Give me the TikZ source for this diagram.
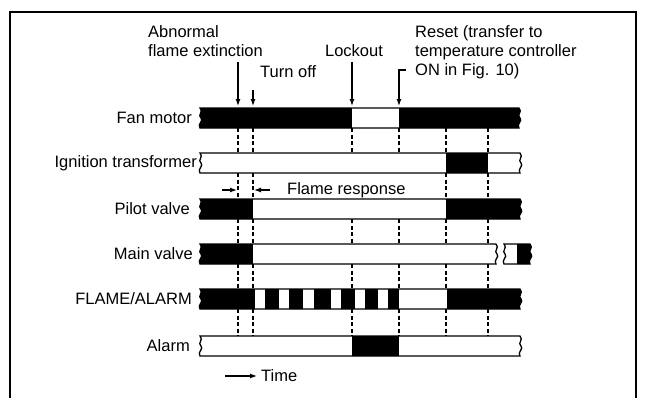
\documentclass[tikz,border=0pt]{standalone}
\usepackage{fontspec}
\setmainfont{Liberation Sans}
\usetikzlibrary{arrows.meta}

% outline of one signal row, with broken ends: left x, right x, top y
\newcommand{\rowpath}[3]{(#1,#3) -- (#2,#3) .. controls (#2+4,#3+4) and (#2-3,#3+7) .. (#2+1,#3+10) .. controls (#2+4,#3+13) and (#2-3,#3+16) .. (#2,#3+20) -- (#1,#3+20) .. controls (#1-3,#3+16) and (#1+4,#3+13) .. (#1+1,#3+10) .. controls (#1-3,#3+7) and (#1+4,#3+4) .. (#1,#3) -- cycle}

% signal row: left x, right x, top y, black spans
\newcommand{\sigrow}[4]{%
  \fill[white] \rowpath{#1}{#2}{#3};
  \begin{scope}
    \clip \rowpath{#1}{#2}{#3};
    \foreach \xa/\xb in {#4} \fill[black] (\xa,#3-2) rectangle (\xb,#3+22);
  \end{scope}
  \draw[rowline] \rowpath{#1}{#2}{#3};}

% dashed guides between two rows
\newcommand{\guides}[3]{\foreach \x in {#3} \draw[guide] (\x,#1) -- (\x,#2);}

\tikzset{
  lbl/.style={font=\fontsize{16.5}{19}\selectfont, inner sep=0pt},
  rowline/.style={line width=1.3pt},
  guide/.style={line width=1.2pt, dash pattern=on 4pt off 2.5pt},
  marker/.style={line width=1.2pt, -{Latex[length=7pt,width=5pt]}}
}

\begin{document}
\begin{tikzpicture}[x=1pt,y=-1pt]
  \useasboundingbox (0,0) rectangle (646,397);
  % --- frame ---
  \draw[line width=1.4pt] (10,400) -- (10,12) -- (636,12) -- (636,400);

  % --- row labels ---
  \node[lbl, anchor=east] (lfan)   at (192,118) {Fan motor};
  \node[lbl, anchor=east] (lign)   at (197,163) {Ignition transformer};
  \node[lbl, anchor=east] (lpilot) at (190,209) {Pilot valve};
  \node[lbl, anchor=east] (lmain)  at (193,254) {Main valve};
  \node[lbl, anchor=east] (lflame) at (192,299) {FLAME/ALARM};
  \node[lbl, anchor=east] (lalarm) at (190,346) {Alarm};

  % --- signal rows ---
  \sigrow{200}{519}{108}{195/352, 399/525}
  \sigrow{200}{520}{153}{446/488}
  \sigrow{200}{520}{199}{195/253, 446/525}
  \sigrow{200}{496}{244}{195/253}
  \sigrow{504}{530}{244}{517/535}
  \sigrow{200}{520}{289}{195/255, 265/279, 289/303, 314/331, 341/355, 365/378, 388/399, 447/525}
  \sigrow{200}{520}{336}{352/399}

  % --- dashed guides ---
  \guides{128}{153}{238,253,352,399,446,488}
  \guides{173}{199}{238,253,446,488}
  \guides{219}{244}{238,253,352,399,446,488}
  \guides{264}{289}{238,253,352,399,446,488}
  \guides{309}{336}{238,253,352,399,446,488}

  % --- events ---
  \node[lbl, anchor=north west, align=left] (abn) at (148,25) {Abnormal\\flame extinction};
  \node[lbl, anchor=west] (turnoff) at (260,72) {Turn off};
  \node[lbl, anchor=north] (lockout) at (354,44) {Lockout};
  \node[lbl, anchor=north west, align=left] (reset) at (415,25) {Reset (transfer to\\temperature controller\\ON in Fig. 10)};

  \coordinate (abn-s) at (238,62);   \coordinate (abn-e) at (238,106);
  \coordinate (off-s) at (253,90);   \coordinate (off-e) at (253,106);
  \coordinate (lock-s) at (352,62);  \coordinate (lock-e) at (352,106);
  \coordinate (rst-h) at (406,70);   \coordinate (rst-s) at (399,70);
  \coordinate (rst-e) at (399,106);
  \draw[marker] (abn-s) -- (abn-e);
  \draw[marker] (off-s) -- (off-e);
  \draw[marker] (lock-s) -- (lock-e);
  \draw[marker] (rst-h) -- (rst-s) -- (rst-e);

  % --- flame response ---
  \node[lbl, anchor=west] (flresp) at (287,190) {Flame response};
  \coordinate (fr-a) at (222,190); \coordinate (fr-b) at (237,190);
  \coordinate (fr-c) at (270,190); \coordinate (fr-d) at (254,190);
  \draw[marker] (fr-a) -- (fr-b);
  \draw[marker] (fr-c) -- (fr-d);

  % --- time axis ---
  \node[lbl, anchor=west] (time) at (261,376) {Time};
  \coordinate (tm-a) at (225,376); \coordinate (tm-b) at (257,376);
  \draw[marker] (tm-a) -- (tm-b);
\end{tikzpicture}
\end{document}
